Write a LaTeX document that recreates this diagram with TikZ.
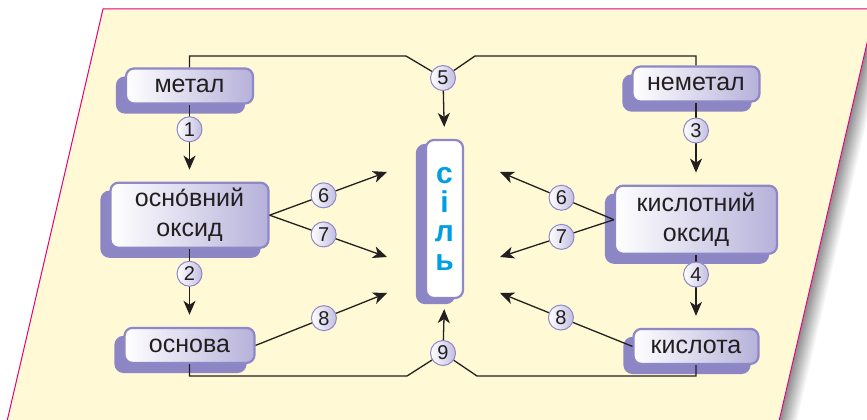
\documentclass[tikz,border=0pt]{standalone}
\usepackage{fontspec}
\setmainfont{Liberation Sans}
\usetikzlibrary{arrows.meta, positioning, shadows}
\definecolor{paper}{HTML}{FFF9D5}
\definecolor{edge}{HTML}{E5007D}
\definecolor{cardline}{HTML}{8E88C6}
\definecolor{cardback}{HTML}{8C86C4}
\definecolor{cardright}{HTML}{B6B1DA}
\definecolor{numfill}{HTML}{C2BEE2}
\definecolor{salt}{HTML}{009FE3}
\definecolor{ink}{HTML}{231F20}

\begin{document}
\begin{tikzpicture}[
    x=1pt, y=-1pt,
    cardbase/.style={rectangle, draw=cardline, line width=2.2pt, rounded corners=8pt,
                text=ink, align=center, font=\fontsize{25}{30}\selectfont,
                minimum height=35pt,
                copy shadow={shadow xshift=-9pt, shadow yshift=#1, fill=cardback,
                             draw=cardback, opacity=1}},
    cardbase/.default=-9pt,
    card/.style={cardbase, left color=white, right color=cardright},
    num/.style={circle, draw=cardline, line width=1pt, left color=white,
                right color=numfill, minimum size=25pt, inner sep=0pt,
                font=\fontsize{20}{20}\selectfont, text=ink},
    link/.style={draw=ink, line width=1.3pt},
    arrow/.style={link, -{Stealth[length=14pt, width=12pt, inset=4pt]}}
]
\useasboundingbox (0,0) rectangle (867,420);

% Page
\foreach \d in {18,17,...,1} {
    \pgfmathtruncatemacro\g{round(45*(1-\d/18))}
    \draw[black!\g, line width=1.5pt] (875+\d,9) -- (777+\d,430);
}
\filldraw[fill=paper, draw=edge, line width=1pt]
    (103,9) -- (875,9) -- (777,430) -- (5,430) -- cycle;

% Left column
\node[card, minimum width=127pt] (metal) at (189.5,86) {метал};
\node[card, minimum width=158pt, minimum height=65pt, below=77pt of metal] (oxl) {осно́вний\\оксид};
\node[card, minimum width=130pt, below=78pt of oxl] (base) {основа};

% Right column
\node[card, minimum width=127pt] (nonmetal) at (696,84) {неметал};
\node[card, minimum width=162pt, minimum height=68pt, below=82pt of nonmetal] (oxr) {кислотний\\оксид};
\node[card, minimum width=125pt, below=73pt of oxr] (acid) {кислота};

% Salt
\node[cardbase=-5pt, fill=white, minimum width=37pt, minimum height=158pt,
      text=salt, font=\fontsize{30}{29}\selectfont\bfseries] (sil) at (444.5,219) {с\\і\\л\\ь};

% Junctions and free ends
\coordinate (j5l) at (406,56);
\coordinate (j5r) at (475,56);
\coordinate (j9l) at (407,376);
\coordinate (j9r) at (477,376);
\coordinate (t6l) at (387,172);
\coordinate (t7l) at (387,257);
\coordinate (t8l) at (387,293);
\coordinate (t6r) at (500,172);
\coordinate (t7r) at (500,257);
\coordinate (t8r) at (500,293);
\node[num] (n5) at (443,78) {5};
\node[num] (n9) at (443,353) {9};

% Arrows
\draw[arrow, shorten >=12pt] (metal) -- node[num, pos=.32] (n1) {1} (oxl);
\draw[arrow, shorten >=12pt] (oxl) -- node[num, pos=.32] (n2) {2} (base);
\draw[arrow, shorten >=12pt] (nonmetal) -- node[num, pos=.34] (n3) {3} (oxr);
\draw[arrow, shorten >=12pt] (oxr) -- node[num, pos=.27] (n4) {4} (acid);

\draw[link] (metal.north) |- (j5l) -- (n5);
\draw[link] (nonmetal.north) |- (j5r) -- (n5);
\draw[arrow, shorten >=12pt] (n5) -- (sil.north);

\draw[link] (base.south) |- (j9l) -- (n9);
\draw[link] (acid.south) |- (j9r) -- (n9);
\draw[arrow, shorten >=10pt] (n9) -- (sil.south);

\draw[arrow] (oxl.east) -- node[num, pos=.46] (n6l) {6} (t6l);
\draw[arrow] (oxl.east) -- node[num, pos=.46] (n7l) {7} (t7l);
\draw[arrow] (base.east) -- node[num, pos=.52] (n8l) {8} (t8l);
\draw[arrow] (oxr.west) -- node[num, pos=.46] (n6r) {6} (t6r);
\draw[arrow] (oxr.west) -- node[num, pos=.46] (n7r) {7} (t7r);
\draw[arrow] (acid.west) -- node[num, pos=.54] (n8r) {8} (t8r);

\end{tikzpicture}
\end{document}
